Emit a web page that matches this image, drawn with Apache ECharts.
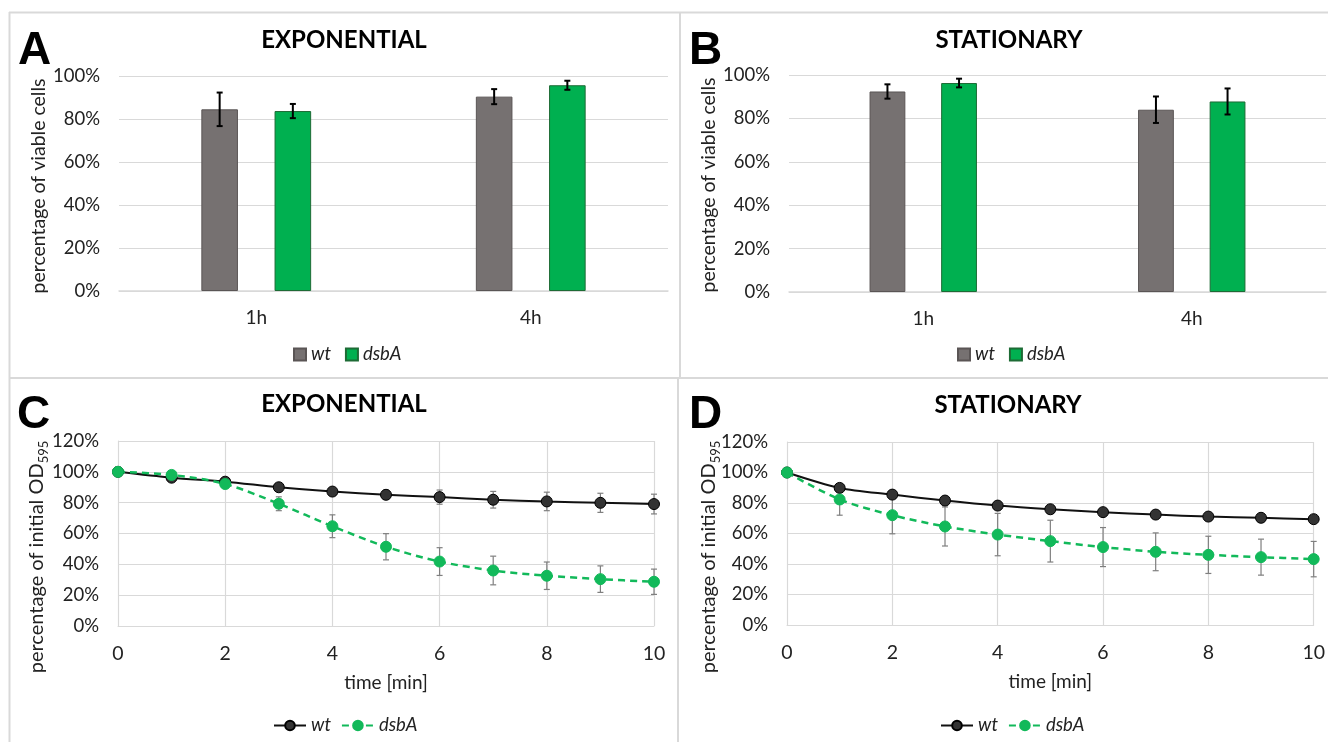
<!DOCTYPE html>
<html><head><meta charset="utf-8">
<script src="https://cdn.jsdelivr.net/npm/echarts@6/dist/echarts.min.js"></script>
<style>html,body{margin:0;padding:0;background:#fff}#c{width:1328px;height:742px}</style>
</head><body><div id="c"></div>
<script>
// ---- data ----
const barCategories = ['1h', '4h'];
const expWt = [84.5, 90.4];
const expWtErr = [7.8, 3.5];
const expDsbA = [83.7, 95.7];
const expDsbAErr = [3.3, 2.1];
const statWt = [92.4, 84.0];
const statWtErr = [3.3, 6.1];
const statDsbA = [96.3, 87.8];
const statDsbAErr = [2.0, 6.0];

const times = [0, 1, 2, 3, 4, 5, 6, 7, 8, 9, 10];
const expWtOD = [100, 96.2, 93.6, 90.0, 87.2, 85.1, 83.6, 81.9, 80.8, 79.9, 79.1];
const expWtODErr = [0, 1, 1, 1.5, 2, 3, 4.6, 5.4, 6, 6.2, 6.4];
const expDsbAOD = [100, 98, 92.1, 79.3, 64.7, 51.4, 41.8, 36.0, 32.6, 30.4, 28.7];
const expDsbAODErr = [0, 1, 1.5, 4.5, 7.4, 8.5, 9, 9.3, 8.9, 8.6, 8.2];
const statWtOD = [100, 89.9, 85.5, 81.6, 78.3, 75.9, 74.0, 72.4, 71.1, 70.3, 69.4];
const statWtODErr = [0, 1.5, 1.5, 1.5, 1.5, 1.5, 1.5, 1.5, 1.5, 1.5, 1.5];
const statDsbAOD = [100, 82.3, 72.0, 64.6, 59.3, 55.0, 51.1, 48.0, 46.0, 44.5, 43.2];
const statDsbAODErr = [0, 10.3, 12.2, 12.8, 13.9, 13.7, 12.8, 12.4, 12.2, 11.8, 11.6];

const yTicksBar = { min: 0, max: 100, interval: 20 };
const yTicksLine = { min: 0, max: 120, interval: 20 };
const xTicksLine = { min: 0, max: 10, interval: 2 };

// ---- style ----
const FONT = 'Lato, "Open Sans", sans-serif';
const TXT = '#222';
const GRIDC = '#d9d9d9';
const GRAY = '#767171';
const GREEN = '#00b050';
const GREEN2 = '#12b95a';

const chart = echarts.init(document.getElementById('c'));

function barErr(ax, vals, errs, side) {
  return {
    type: 'custom', xAxisIndex: ax, yAxisIndex: ax, z: 10, silent: true,
    data: vals.map((v, i) => [i, v, errs[i]]),
    renderItem: function (params, api) {
      const band = api.size([1, 0])[0];
      const off = side * band * 0.4 / 3;
      const x = api.coord([api.value(0), 0])[0] + off;
      const yT = api.coord([api.value(0), api.value(1) + api.value(2)])[1];
      const yB = api.coord([api.value(0), api.value(1) - api.value(2)])[1];
      const st = { stroke: '#000', lineWidth: 2 };
      return { type: 'group', children: [
        { type: 'line', shape: { x1: x, y1: yT, x2: x, y2: yB }, style: st },
        { type: 'line', shape: { x1: x - 3, y1: yT, x2: x + 3, y2: yT }, style: st },
        { type: 'line', shape: { x1: x - 3, y1: yB, x2: x + 3, y2: yB }, style: st }
      ]};
    }
  };
}

function lineErr(ax, vals, errs) {
  return {
    type: 'custom', xAxisIndex: ax, yAxisIndex: ax, z: 1, silent: true,
    data: times.map((t, i) => [t, vals[i] - errs[i], vals[i] + errs[i]]),
    renderItem: function (params, api) {
      const p1 = api.coord([api.value(0), api.value(1)]);
      const p2 = api.coord([api.value(0), api.value(2)]);
      const st = { stroke: '#7f7f7f', lineWidth: 1.2 };
      return { type: 'group', children: [
        { type: 'line', shape: { x1: p1[0], y1: p1[1], x2: p2[0], y2: p2[1] }, style: st },
        { type: 'line', shape: { x1: p1[0] - 3, y1: p1[1], x2: p1[0] + 3, y2: p1[1] }, style: st },
        { type: 'line', shape: { x1: p2[0] - 3, y1: p2[1], x2: p2[0] + 3, y2: p2[1] }, style: st }
      ]};
    }
  };
}

function catX(idx) {
  return {
    type: 'category', gridIndex: idx, data: barCategories,
    axisLine: { lineStyle: { color: GRIDC, width: 1.5 } }, axisTick: { show: false },
    axisLabel: { fontFamily: FONT, fontSize: 19, color: TXT, margin: 17 }
  };
}
function valY(idx, ticks) {
  return {
    type: 'value', gridIndex: idx, min: ticks.min, max: ticks.max, interval: ticks.interval,
    axisLine: { show: idx >= 2, lineStyle: { color: GRIDC } }, axisTick: { show: false },
    splitLine: { lineStyle: { color: GRIDC, width: 1.2 } },
    axisLabel: { fontFamily: FONT, fontSize: 18.5, color: TXT, margin: 19, formatter: '{value}%' }
  };
}
function valX(idx) {
  return {
    type: 'value', gridIndex: idx, min: xTicksLine.min, max: xTicksLine.max, interval: xTicksLine.interval,
    axisLine: { lineStyle: { color: GRIDC } }, axisTick: { show: false },
    splitLine: { show: true, lineStyle: { color: GRIDC, width: 1.2 } },
    axisLabel: { fontFamily: FONT, fontSize: 19.5, color: TXT, margin: 18 },
    name: 'time [min]', nameLocation: 'middle', nameGap: 47,
    nameTextStyle: { fontFamily: FONT, fontSize: 19, color: TXT }
  };
}

function barSeries(ax, name, vals, color, border) {
  return { type: 'bar', name: name, xAxisIndex: ax, yAxisIndex: ax, data: vals,
    barGap: '100%', barCategoryGap: '60%',
    itemStyle: { color: color, borderColor: border, borderWidth: 1 } };
}
function lineSeries(ax, name, vals, isWt) {
  return { type: 'line', name: name, xAxisIndex: ax, yAxisIndex: ax, z: 3,
    data: times.map((t, i) => [t, vals[i]]), smooth: 0.3,
    symbol: 'circle', symbolSize: 11,
    lineStyle: isWt ? { color: '#111', width: 2 } : { color: GREEN2, width: 2.5, type: [7, 5] },
    itemStyle: isWt ? { color: '#333', borderColor: '#000', borderWidth: 1 } : { color: GREEN2, borderColor: GREEN2, borderWidth: 1 }
  };
}

const legendText = { fontFamily: FONT, fontSize: 18.5, fontStyle: 'italic', color: TXT };

function panelText(x, y, text, size) {
  return { type: 'text', x: x, y: y, silent: true,
    style: { text: text, font: 'bold ' + size + 'px "Liberation Sans", Arial, sans-serif', fill: '#000',
      align: 'left', verticalAlign: 'middle', textAlign: 'left', textVerticalAlign: 'middle' } };
}
function yTitle(x, y, sub) {
  const el = { type: 'text', x: x, y: y, rotation: Math.PI / 2, silent: true,
    style: { fill: TXT, align: 'center', verticalAlign: 'middle', textAlign: 'center', textVerticalAlign: 'middle',
      font: '19.5px ' + FONT } };
  if (sub) {
    el.style.text = '{a|percentage of initial OD}{s|595}';
    el.style.rich = {
      a: { fontFamily: FONT, fontSize: 20, color: TXT, lineHeight: 26, verticalAlign: 'middle' },
      s: { fontFamily: FONT, fontSize: 13, color: TXT, lineHeight: 26, verticalAlign: 'bottom' }
    };
  } else {
    el.style.text = 'percentage of viable cells';
  }
  return el;
}
function border(x1, y1, x2, y2) {
  return { type: 'line', silent: true, shape: { x1, y1, x2, y2 }, style: { stroke: GRIDC, lineWidth: 2 } };
}

const titleStyle = { fontFamily: FONT, fontWeight: 'bold', fontSize: 24, color: '#000' };

const option = {
  backgroundColor: '#fff',
  animation: false,
  title: [
    { text: 'EXPONENTIAL', left: 344, top: 28, textAlign: 'center', padding: 0, textStyle: titleStyle },
    { text: 'STATIONARY', left: 1009, top: 28, textAlign: 'center', padding: 0, textStyle: titleStyle },
    { text: 'EXPONENTIAL', left: 344, top: 392, textAlign: 'center', padding: 0, textStyle: titleStyle },
    { text: 'STATIONARY', left: 1008, top: 393, textAlign: 'center', padding: 0, textStyle: titleStyle }
  ],
  legend: [
    { data: ['wt', 'dsbA'], left: 293, top: 345, padding: 0, icon: 'rect', itemWidth: 12, itemHeight: 12, itemGap: 14, selectedMode: false, textStyle: legendText },
    { data: ['wt', 'dsbA'], left: 957, top: 345, padding: 0, icon: 'rect', itemWidth: 12, itemHeight: 12, itemGap: 14, selectedMode: false, textStyle: legendText },
    { data: ['wt-line', 'dsbA-line'], left: 273, top: 716, padding: 0, itemWidth: 32, itemHeight: 12, itemGap: 10, selectedMode: false, textStyle: legendText, formatter: n => n.replace('-line', '') },
    { data: ['wt-line', 'dsbA-line'], left: 940, top: 716, padding: 0, itemWidth: 32, itemHeight: 12, itemGap: 10, selectedMode: false, textStyle: legendText, formatter: n => n.replace('-line', '') }
  ],
  grid: [
    { left: 119, top: 76, width: 549, height: 215 },
    { left: 789, top: 75, width: 537, height: 217 },
    { left: 118, top: 441, width: 536, height: 185 },
    { left: 787, top: 442, width: 529, height: 183 }
  ],
  xAxis: [catX(0), catX(1), valX(2), valX(3)],
  yAxis: [valY(0, yTicksBar), valY(1, yTicksBar), valY(2, yTicksLine), valY(3, yTicksLine)],
  series: [
    barSeries(0, 'wt', expWt, GRAY, '#5a5555'),
    barSeries(0, 'dsbA', expDsbA, GREEN, '#1d6b35'),
    barSeries(1, 'wt', statWt, GRAY, '#5a5555'),
    barSeries(1, 'dsbA', statDsbA, GREEN, '#1d6b35'),
    barErr(0, expWt, expWtErr, -1),
    barErr(0, expDsbA, expDsbAErr, 1),
    barErr(1, statWt, statWtErr, -1),
    barErr(1, statDsbA, statDsbAErr, 1),
    lineErr(2, expWtOD, expWtODErr),
    lineErr(2, expDsbAOD, expDsbAODErr),
    lineErr(3, statWtOD, statWtODErr),
    lineErr(3, statDsbAOD, statDsbAODErr),
    lineSeries(2, 'wt-line', expWtOD, true),
    lineSeries(2, 'dsbA-line', expDsbAOD, false),
    lineSeries(3, 'wt-line', statWtOD, true),
    lineSeries(3, 'dsbA-line', statDsbAOD, false)
  ],
  graphic: [
    border(9, 12.5, 1328, 12.5),
    border(9.5, 12, 9.5, 742),
    border(9, 378, 1328, 378),
    border(680, 12, 680, 378),
    border(678, 378, 678, 742),
    panelText(18, 51, 'A', 46),
    panelText(689, 51, 'B', 46),
    panelText(17, 415, 'C', 46),
    panelText(689, 415, 'D', 46),
    yTitle(39, 186, false),
    yTitle(709, 185, false),
    yTitle(37, 557, true),
    yTitle(709, 557, true)
  ]
};
chart.setOption(option);
</script>
</body></html>
